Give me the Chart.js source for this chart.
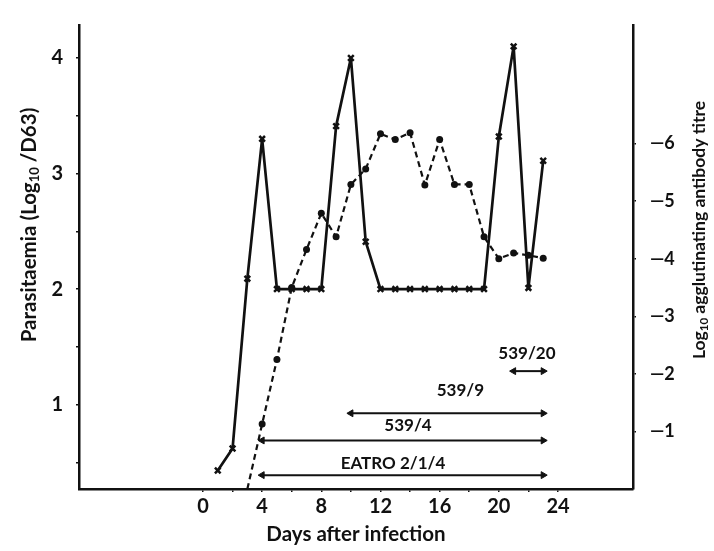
<!DOCTYPE html>
<html><head><meta charset="utf-8">
<script src="https://cdn.jsdelivr.net/npm/chart.js@4.4.1/dist/chart.umd.min.js"></script>
<style>html,body{margin:0;padding:0;background:#fff}#wrap{width:714px;height:551px;position:relative}</style>
</head><body><div id="wrap"><canvas id="c" width="714" height="551"></canvas></div>
<script>
// ---- data ----
const parasitDays = [1,2,3,4,5,6,7,8,9,10,11,12,13,14,15,16,17,18,19,20,21,22,23];
const parasitaemia = [0.43,0.62,2.09,3.30,2.0,2.0,2.0,2.0,3.41,4.0,2.41,2.0,2.0,2.0,2.0,2.0,2.0,2.0,2.0,3.32,4.10,2.01,3.11];
const antibodyDays = [3,4,5,6,7,8,9,10,11,12,13,14,15,16,17,18,19,20,21,22,23];
const antibodyTitre = [0,-1.13,-2.25,-3.5,-4.16,-4.79,-4.38,-5.29,-5.56,-6.17,-6.07,-6.19,-5.28,-6.07,-5.29,-5.29,-4.38,-4.0,-4.10,-4.06,-4.01];
const dayTicks = [0,2,4,6,8,10,12,14,16,18,20,22,24];
const dayLabels = [0,4,8,12,16,20,24];
const leftTicks = [0.5,1,1.5,2,2.5,3,3.5,4];
const leftLabels = [1,2,3,4];
const rightTicks = [-1,-2,-3,-4,-5,-6];
const strainNames = ["EATRO 2/1/4","539/4","539/9","539/20"];
const strainFrom = [4,4,10,21];
const strainTo = [23,23,23,23];
const strainLevel = [0.39,0.69,0.925,1.29];
const strainLabelDay = [12.85,13.86,17.4,21.9];
const strainLabelLevel = [0.49,0.82,1.12,1.44];

const FONT = 'Lato, "Open Sans", sans-serif';
const BLACK = '#111';

const arrowSets = strainNames.map((n,i)=>({
  label:n, type:'line', yAxisID:'y',
  data:[{x:strainFrom[i],y:strainLevel[i]},{x:strainTo[i],y:strainLevel[i]}],
  borderColor:BLACK, borderWidth:2, backgroundColor:BLACK,
  pointStyle:'triangle', pointRadius:4, pointRotation:[-90,90],
  pointBorderWidth:1, pointBorderColor:BLACK, tension:0
}));

function richText(ctx, parts, x, y, rot){
  ctx.save();
  ctx.translate(x,y); ctx.rotate(rot);
  let total=0;
  parts.forEach(p=>{ctx.font='bold '+p[1]+'px '+FONT; total+=ctx.measureText(p[0]).width;});
  let cx=-total/2;
  ctx.textBaseline='middle'; ctx.textAlign='left'; ctx.fillStyle=BLACK;
  parts.forEach(p=>{ctx.font='bold '+p[1]+'px '+FONT; ctx.fillText(p[0],cx,p[2]); cx+=ctx.measureText(p[0]).width;});
  ctx.restore();
}

const textPlugin = {
  id:'texts',
  afterDatasetsDraw(chart){
    const ctx=chart.ctx, xs=chart.scales.x, ys=chart.scales.y;
    ctx.save();
    ctx.font='bold 17px '+FONT; ctx.fillStyle=BLACK; ctx.textAlign='center'; ctx.textBaseline='middle';
    strainNames.forEach((n,i)=>{
      ctx.fillText(n, xs.getPixelForValue(strainLabelDay[i]), ys.getPixelForValue(strainLabelLevel[i]));
    });
    ctx.restore();
    richText(ctx,[["Parasitaemia (Log",20.5,0],["10",13,6],[" /D63)",20.5,0]],29,225,-Math.PI/2);
    richText(ctx,[["Log",17.5,0],["10",11.5,5],[" agglutinating antibody titre",17.5,0]],699,230,-Math.PI/2);
  }
};

new Chart(document.getElementById('c'),{
  type:'line',
  data:{datasets:[
    {label:'Parasitaemia', yAxisID:'y', data:parasitDays.map((d,i)=>({x:d,y:parasitaemia[i]})),
     borderColor:BLACK, borderWidth:2.7, borderJoinStyle:'round', pointStyle:'crossRot', pointRadius:4, pointBorderWidth:2.5,
     pointBorderColor:BLACK, backgroundColor:BLACK, tension:0},
    {label:'Antibody titre', yAxisID:'y2', data:antibodyDays.map((d,i)=>({x:d,y:antibodyTitre[i]})),
     borderColor:BLACK, borderWidth:2.2, borderDash:[6,4], borderJoinStyle:'round', pointStyle:'circle',
     pointRadius:antibodyDays.map((d,i)=>i===0?0:3.5), pointBorderWidth:0,
     pointBackgroundColor:BLACK, backgroundColor:BLACK, tension:0},
    ...arrowSets
  ]},
  options:{
    responsive:false, animation:false, devicePixelRatio:1,
    layout:{padding:{top:10,left:0,right:0,bottom:0}},
    plugins:{legend:{display:false}, tooltip:{enabled:false}},
    scales:{
      x:{type:'linear', min:-8.38, max:29.07,
        afterBuildTicks(a){a.ticks=dayTicks.map(v=>({value:v}));},
        afterFit(s){s.height=62;},
        ticks:{autoSkip:false, maxRotation:0, color:BLACK, padding:3,
          font:{family:FONT, weight:'bold', size:20},
          callback:v=>dayLabels.includes(v)?String(v):''},
        grid:{drawOnChartArea:false, drawTicks:true, tickLength:3, color:BLACK, lineWidth:1.5},
        border:{display:true, color:BLACK, width:2.5},
        title:{display:true, text:'Days after infection', color:BLACK,
          font:{family:FONT, weight:'bold', size:20.5}, padding:{top:0,bottom:4}}
      },
      y:{type:'linear', position:'left', min:0.27, max:4.285,
        afterBuildTicks(a){a.ticks=leftTicks.map(v=>({value:v}));},
        afterFit(s){s.width=79;},
        ticks:{autoSkip:false, color:BLACK, padding:13,
          font:{family:FONT, weight:'bold', size:20},
          callback:v=>leftLabels.includes(v)?String(v):''},
        grid:{drawOnChartArea:false, drawTicks:true, tickLength:3, color:BLACK, lineWidth:1.5},
        border:{display:true, color:BLACK, width:2.5}
      },
      y2:{type:'linear', position:'right', reverse:true, min:-8.06, max:0,
        afterBuildTicks(a){a.ticks=rightTicks.map(v=>({value:v}));},
        afterFit(s){s.width=81;},
        ticks:{autoSkip:false, color:BLACK, padding:14,
          font:{family:FONT, weight:'bold', size:18},
          callback:v=>'\u2014'+Math.abs(v)},
        grid:{drawOnChartArea:false, drawTicks:true, tickLength:3, color:BLACK, lineWidth:1.5},
        border:{display:true, color:BLACK, width:2.5}
      }
    }
  },
  plugins:[textPlugin]
});
</script></body></html>
